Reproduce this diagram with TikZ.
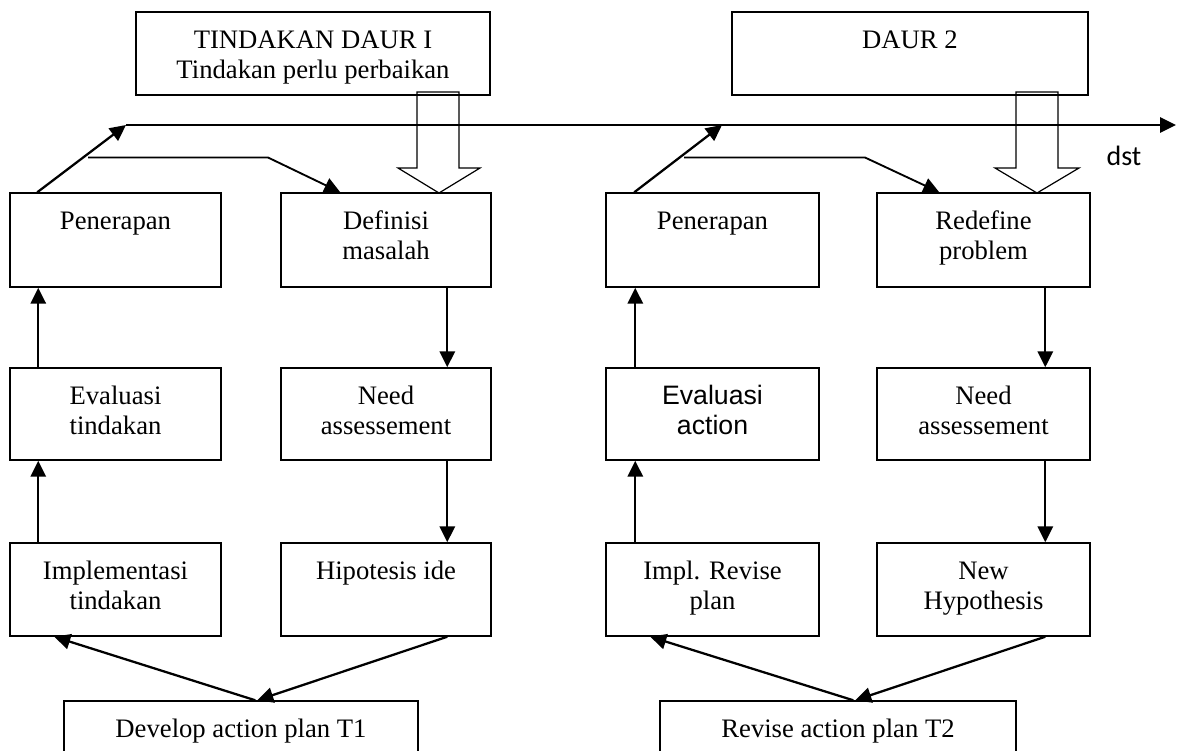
\documentclass[tikz,border=0pt]{standalone}
\usepackage{fontspec}
\setmainfont{Liberation Serif}
\newfontfamily\arialf{Liberation Sans}
\newfontfamily\calib{Carlito}
\usetikzlibrary{arrows.meta}
\newdimen\px \px=0.75pt
\newcommand{\bt}[3]{\parbox[c][#2\px][t]{#1\px}{\centering\rule{0pt}{36\px}#3}}
\begin{document}
\begin{tikzpicture}[x=0.75pt,y=-0.75pt,
 box/.style={draw, line width=1.1pt, inner sep=0pt, font=\fontsize{20pt}{22.5pt}\selectfont},
 arr/.style={line width=1.7pt, -{Triangle[length=12pt,width=11.5pt]}},
 thinarr/.style={line width=1.4pt, -{Triangle[length=12pt,width=11.5pt]}},
 hollow/.style={draw, line width=0.9pt, line join=miter}]
\useasboundingbox (0,0) rectangle (1177,750);
\clip (0,0) rectangle (1177,750);
% top boxes
\node[box] (top1) at (313,53.5) {\bt{354}{83}{TINDAKAN DAUR I\\Tindakan perlu perbaikan}};
\node[box] (top2) at (910,53.5) {\bt{356}{83}{DAUR 2}};
% cycle 1
\node[box] (pen1) at (115.5,240) {\bt{211}{94}{Penerapan}};
\node[box] (def1) at (386,240) {\bt{210}{94}{Definisi\\masalah}};
\node[box] (eva1) at (115.5,414) {\bt{211}{92}{Evaluasi\\tindakan}};
\node[box] (need1) at (386,414) {\bt{210}{92}{Need\\assessement}};
\node[box] (impl1) at (115.5,589.5) {\bt{211}{93}{Implementasi\\tindakan}};
\node[box] (hip1) at (386,589.5) {\bt{210}{93}{Hipotesis ide}};
\node[box] (dev1) at (241,742.5) {\bt{354}{83}{Develop action plan T1}};
% cycle 2
\node[box] (pen2) at (712.5,240) {\bt{213}{94}{Penerapan}};
\node[box] (red2) at (983.5,240) {\bt{213}{94}{Redefine\\problem}};
\node[box] (eva2) at (712.5,414) {\bt{213}{92}{\arialf Evaluasi\\action}};
\node[box] (need2) at (983.5,414) {\bt{213}{92}{Need\\assessement}};
\node[box] (impl2) at (712.5,589.5) {\bt{213}{93}{Impl. Revise\\plan}};
\node[box] (new2) at (983.5,589.5) {\bt{213}{93}{New\\Hypothesis}};
\node[box] (rev2) at (838,742.5) {\bt{356}{83}{Revise action plan T2}};
% dst label
\node[font=\calib\fontsize{21pt}{24pt}\selectfont, inner sep=0pt] (dst) at (1124,156) {dst};
% main time line
\coordinate (ls) at (126,125);
\coordinate (le) at (1176,125);
\coordinate (c2) at (722,125);
\draw[arr] (ls) -- (le);
% hollow arrows
\draw[hollow] (417,92) -- (459,92) -- (459,168) -- (480,168) -- (439,193) -- (398,168) -- (417,168) -- cycle;
\draw[hollow] (1016,92) -- (1058,92) -- (1058,168) -- (1079,168) -- (1037,193) -- (995,168) -- (1016,168) -- cycle;
% top connectors cycle 1
\draw[arr] ([xshift=28\px]pen1.north west) -- (ls);
\coordinate (b1) at (88,157.5);
\coordinate (k1) at (268,157.5);
\draw[thinarr] (b1) -- (k1) -- ([xshift=60\px]def1.north west);
% top connectors cycle 2
\draw[arr] ([xshift=29\px]pen2.north west) -- (c2);
\coordinate (b2) at (684,157.5);
\coordinate (k2) at (865,157.5);
\draw[thinarr] (b2) -- (k2) -- ([xshift=63\px]red2.north west);
% vertical connectors cycle 1
\draw[arr] ([xshift=29\px]eva1.north west) -- ([xshift=29\px]pen1.south west);
\draw[arr] ([xshift=29\px]impl1.north west) -- ([xshift=29\px]eva1.south west);
\draw[arr] ([xshift=167\px]def1.south west) -- ([xshift=167\px]need1.north west);
\draw[arr] ([xshift=167\px]need1.south west) -- ([xshift=167\px]hip1.north west);
% vertical connectors cycle 2
\draw[arr] ([xshift=30\px]eva2.north west) -- ([xshift=30\px]pen2.south west);
\draw[arr] ([xshift=30\px]impl2.north west) -- ([xshift=30\px]eva2.south west);
\draw[arr] ([xshift=169\px]red2.south west) -- ([xshift=169\px]need2.north west);
\draw[arr] ([xshift=169\px]need2.south west) -- ([xshift=169\px]new2.north west);
% bottom connectors
\draw[arr] ([xshift=192\px]dev1.north west) -- ([xshift=45\px]impl1.south west);
\draw[arr] ([xshift=167\px]hip1.south west) -- ([xshift=194\px]dev1.north west);
\draw[arr] ([xshift=194\px]rev2.north west) -- ([xshift=45\px]impl2.south west);
\draw[arr] ([xshift=169\px]new2.south west) -- ([xshift=196\px]rev2.north west);
\end{tikzpicture}
\end{document}
